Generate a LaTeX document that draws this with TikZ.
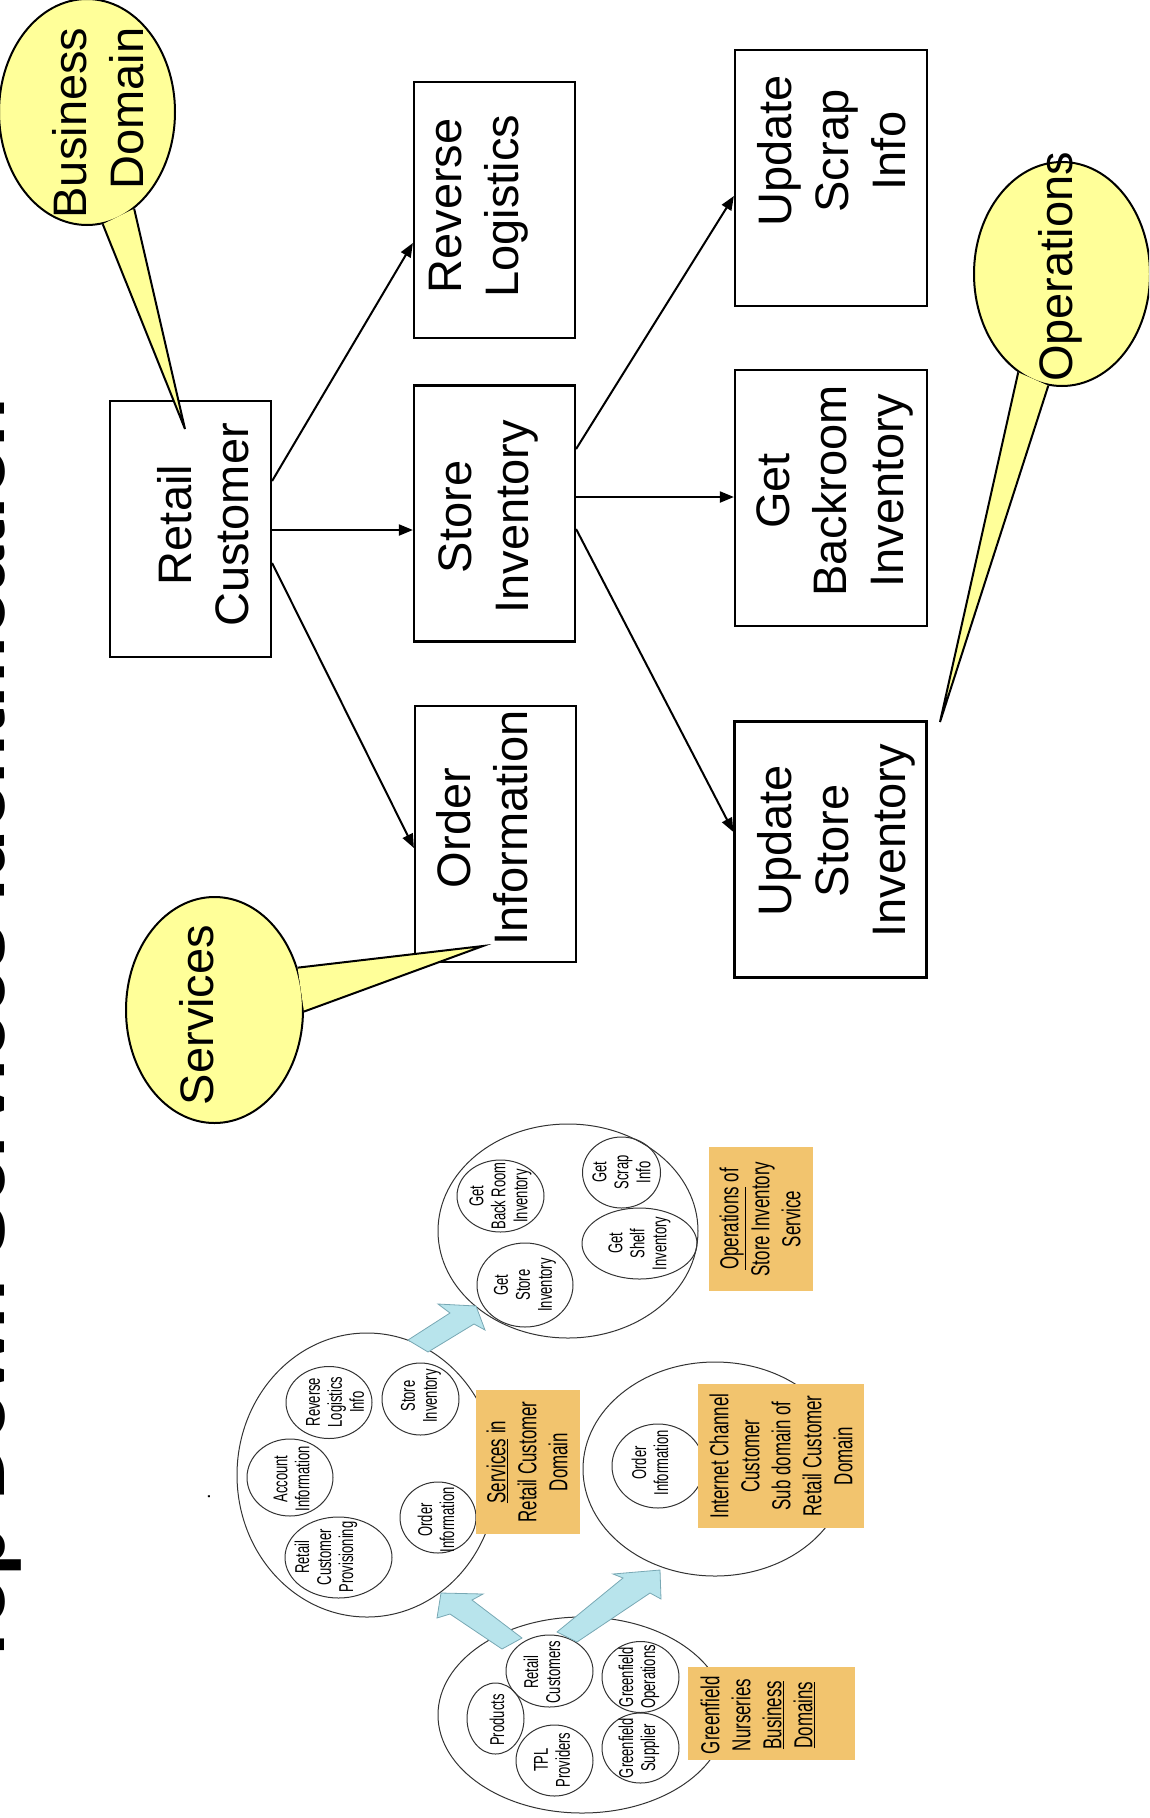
\documentclass[tikz,border=0pt]{standalone}
\usepackage{fontspec}
\setmainfont{Liberation Sans}
\newfontfamily\narrowfont[FakeStretch=0.65]{Liberation Sans}
\usetikzlibrary{shapes.geometric,arrows.meta,calc}

\definecolor{bubblefill}{RGB}{255,255,153}
\definecolor{tagfill}{RGB}{242,196,110}
\definecolor{pushfill}{RGB}{184,228,236}
\definecolor{pushline}{RGB}{120,168,180}

\begin{document}
\begin{tikzpicture}[x=1pt, y=-1pt]
	\tikzstyle{Box}      = [draw, line width=2.2pt, minimum width=161pt, minimum height=256pt, inner sep=0pt]
	\tikzstyle{Wide}     = [minimum width=192pt]
	\tikzstyle{BoxText}  = [rotate=90, align=center, inner sep=0pt, font=\fontsize{47}{57}\selectfont]
	\tikzstyle{Bubble}   = [draw, ellipse, line width=2pt, fill=bubblefill, inner sep=0pt]
	\tikzstyle{Tail}     = [fill=bubblefill]
	\tikzstyle{Link}     = [-{Triangle[length=14pt, width=11pt]}, line width=2pt]
	\tikzstyle{Ring}     = [draw=black!80, ellipse, line width=1pt, inner sep=0pt]
	\tikzstyle{RingText} = [rotate=90, align=center, inner sep=0pt, font=\narrowfont\fontsize{20}{22}\selectfont]
	\tikzstyle{Tag}      = [fill=tagfill, inner sep=0pt]
	\tikzstyle{TagText}  = [rotate=90, align=center, inner sep=0pt, font=\narrowfont\fontsize{26}{31}\selectfont]
	\tikzstyle{Push}     = [fill=pushfill, draw=pushline, line width=0.8pt]

	\useasboundingbox (0, 0) rectangle (1149, 1818);
	\clip (0, 0) rectangle (1149, 1818);

	\node (title) at (5, 1670) [rotate=90, anchor=base west, inner sep=0pt, font=\bfseries\fontsize{81}{90}\selectfont] {Top-Down Services Identification};

	% service tree
	\node (rc) at (190.5, 529) [Box] {};
	\node (rl) at (494.5, 210) [Box] {};
	\node (si) at (494.5, 513.5) [Box] {};
	\node (oi) at (495.5, 834) [Box] {};
	\node (us) at (831, 178) [Box][Wide] {};
	\node (gb) at (831, 498) [Box][Wide] {};
	\node (ui) at (830.5, 849.5) [Box][Wide] {};

	\node (rc-t) at (203, 525) [BoxText] {Retail\\Customer};
	\node (rl-t) at (479, 206) [BoxText] {Reverse\\Logistics};
	\node (si-t) at (488, 517) [BoxText] {Store\\Inventory};
	\node (oi-t) at (482.5, 828) [BoxText] {Order\\Information};
	\node (us-t) at (832, 151) [BoxText] {Update\\Scrap\\Info};
	\node (gb-t) at (835, 491) [BoxText] {Get\\Backroom\\Inventory};
	\node (ui-t) at (836.5, 841) [BoxText] {Update\\Store\\Inventory};

	\draw [Link] ($(rc.east)+(0,-48)$) -- ($(rl.west)+(0,33)$);
	\draw [Link] ($(rc.east)+(0,1)$) -- ($(si.west)+(0,16.5)$);
	\draw [Link] ($(rc.east)+(0,34)$) -- ($(oi.west)+(0,14)$);
	\draw [Link] ($(si.east)+(0,-64.5)$) -- ($(us.west)+(0,18)$);
	\draw [Link] ($(si.east)+(0,-16.5)$) -- ($(gb.west)+(0,-1)$);
	\draw [Link] ($(si.east)+(0,15.5)$) -- ($(ui.west)+(0,-17.5)$);

	% callouts
	\node (bd) at (87, 112) [Bubble, minimum width=176pt, minimum height=226pt] {};
	\coordinate (bd-tip) at (185, 429);
	\fill [Tail] (bd.-82) -- (bd-tip) -- (bd.-64) -- cycle;
	\draw [line width=2pt] (bd.-82) -- (bd-tip) -- (bd.-64);
	\node (bd-t) at (98.5, 123) [BoxText, align=right] {Business\\Domain};

	\node (sv) at (214.5, 1010) [Bubble, minimum width=177pt, minimum height=226pt] {};
	\coordinate (sv-tip) at (483, 946);
	\fill [Tail] (sv.27) -- (sv-tip) -- (sv.-1) -- cycle;
	\draw [line width=2pt] (sv.27) -- (sv-tip) -- (sv.-1);
	\node (sv-t) at (196.5, 1015) [BoxText] {Services};

	\node (op) at (1062, 274) [Bubble, minimum width=176pt, minimum height=224pt] {};
	\coordinate (op-tip) at (940, 722);
	\fill [Tail] (op.246) -- (op-tip) -- (op.263) -- cycle;
	\draw [line width=2pt] (op.246) -- (op-tip) -- (op.263);
	\node (op-t) at (1060, 267) [BoxText] {Operations};

	% domain sketch
	\node (opg) at (568, 1231) [Ring, minimum width=260pt, minimum height=214pt] {};
	\node (gbr) at (500.5, 1196) [Ring, minimum width=87pt, minimum height=72pt] {};
	\node (gsc) at (621.5, 1172.5) [Ring, minimum width=78pt, minimum height=71pt] {};
	\node (gst) at (525, 1285) [Ring, minimum width=96pt, minimum height=84pt] {};
	\node (gsh) at (639.5, 1243.5) [Ring, minimum width=115pt, minimum height=71pt] {};
	\node (gbr-t) at (gbr) [RingText] {Get\\Back Room\\Inventory};
	\node (gsc-t) at (gsc) [RingText] {Get\\Scrap\\Info};
	\node (gst-t) at (gst) [RingText] {Get\\Store\\Inventory};
	\node (gsh-t) at (gsh) [RingText] {Get\\Shelf\\Inventory};

	\node (svg) at (367, 1475) [Ring, minimum width=260pt, minimum height=284pt] {};
	\node (rli) at (329, 1402.5) [Ring, minimum width=86pt, minimum height=72pt] {};
	\node (sti) at (420.5, 1399) [Ring, minimum width=77pt, minimum height=72pt] {};
	\node (aci) at (290, 1477.5) [Ring, minimum width=86pt, minimum height=77pt] {};
	\node (ori) at (438, 1517.5) [Ring, minimum width=76pt, minimum height=71pt] {};
	\node (rcp) at (338.5, 1557.5) [Ring, minimum width=107pt, minimum height=81pt] {};
	\node (rli-t) at (335, 1402) [RingText] {Reverse\\Logistics\\Info};
	\node (sti-t) at (421, 1396) [RingText] {Store\\Inventory};
	\node (aci-t) at (291.5, 1479) [RingText] {Account\\Information};
	\node (ori-t) at (436, 1520) [RingText] {Order\\Information};
	\node (rcp-t) at (326, 1557) [RingText] {Retail\\Customer\\Provisioning};

	\node (icg) at (715, 1469) [Ring, minimum width=264pt, minimum height=214pt] {};
	\node (ico) at (658, 1466) [Ring, minimum width=92pt, minimum height=84pt] {};
	\node (ico-t) at (650, 1463) [RingText] {Order\\Information};

	\node (bdg) at (582, 1715) [Ring, minimum width=288pt, minimum height=196pt] {};
	\node (prd) at (495.5, 1718.5) [Ring, minimum width=57pt, minimum height=71pt] {};
	\node (rcs) at (549.5, 1671) [Ring, minimum width=87pt, minimum height=72pt] {};
	\node (tpl) at (554.5, 1760.5) [Ring, minimum width=77pt, minimum height=71pt] {};
	\node (gop) at (640.5, 1677) [Ring, minimum width=77pt, minimum height=71pt] {};
	\node (gsu) at (640.5, 1748) [Ring, minimum width=77pt, minimum height=70pt] {};
	\node (prd-t) at (497, 1720) [RingText] {Products};
	\node (rcs-t) at (542, 1672) [RingText] {Retail\\Customers};
	\node (tpl-t) at (552, 1760) [RingText] {TPL\\Providers};
	\node (gop-t) at (639, 1677) [RingText] {Greenfield\\Operations};
	\node (gsu-t) at (639, 1748) [RingText] {Greenfield\\Supplier};

	\node (opt) at (761, 1219) [Tag, minimum width=104pt, minimum height=144pt] {};
	\node (svt) at (528, 1462) [Tag, minimum width=104pt, minimum height=144pt] {};
	\node (ict) at (781, 1456) [Tag, minimum width=166pt, minimum height=144pt] {};
	\node (bdt) at (771.5, 1713.5) [Tag, minimum width=167pt, minimum height=93pt] {};
	\node (opt-t) at (760, 1219) [TagText] {\underline{Operations} of\\Store Inventory\\Service};
	\node (svt-t) at (527, 1462) [TagText] {\underline{Services} in\\Retail Customer\\Domain};
	\node (ict-t) at (781, 1456) [TagText] {Internet Channel\\Customer\\Sub domain of\\Retail Customer\\Domain};
	\node (bdt-t) at (757.5, 1715) [TagText] {Greenfield\\Nurseries\\\underline{Business}\\\underline{Domains}};

	\draw [Push] (502, 1649) -- (450, 1614) -- (437, 1618) -- (441, 1593) -- (483, 1594) -- (472, 1600) -- (522, 1638) -- cycle;
	\draw [Push] (557, 1632) -- (623, 1578) -- (613, 1574) -- (660, 1570) -- (661, 1599) -- (650, 1593) -- (577, 1642) -- cycle;
	\draw [Push] (408, 1340) -- (450, 1313) -- (438, 1304) -- (476, 1306) -- (485, 1330) -- (474, 1324) -- (428, 1352) -- cycle;

	\node (dot) at (209, 1497) [rotate=90, inner sep=0pt, font=\fontsize{20}{22}\selectfont] {.};
\end{tikzpicture}
\end{document}
